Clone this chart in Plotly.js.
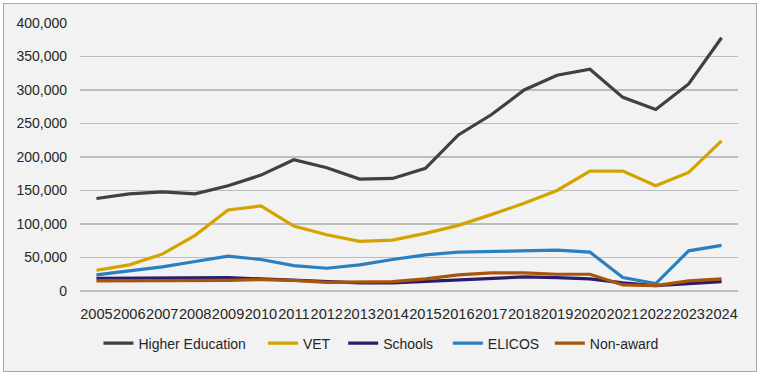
<!DOCTYPE html>
<html>
<head>
<meta charset="utf-8">
<script src="https://cdn.plot.ly/plotly-3.0.1.min.js"></script>
<style>
  html, body { margin: 0; padding: 0; background: #ffffff; }
  #chart { position: absolute; left: 3px; top: 3px; width: 752px; height: 367px; border: 1px solid #a6a6a6; }
</style>
</head>
<body>
<div id="chart"></div>
<script>
const years = ["2005","2006","2007","2008","2009","2010","2011","2012","2013","2014","2015","2016","2017","2018","2019","2020","2021","2022","2023","2024"];
const higherEducation = [138000,145000,148000,145000,157000,173000,196000,184000,167000,168000,183000,233000,263000,300000,322000,331000,289000,271000,309000,378000];
const vet = [31000,39000,55000,83000,121000,127000,97000,84000,74000,76000,86000,98000,114000,131000,150000,179000,179000,157000,177000,224000];
const schools = [19000,19000,19000,20000,20000,18000,16000,13000,12000,12000,14000,17000,18000,21000,20000,18000,12000,8000,11000,14000];
const elicos = [24000,30000,36000,44000,52000,47000,38000,34000,39000,47000,54000,58000,59000,60000,61000,58000,20000,11000,60000,68000];
const nonAward = [15000,15000,15000,15000,16000,17000,16000,13000,13000,14000,18000,24000,27000,27000,25000,25000,9000,8000,15000,18000];
const seriesNames = ["Higher Education","VET","Schools","ELICOS","Non-award"];
const seriesColors = ["#3f3f44","#d4a300","#2b1d6b","#2a7fc1","#a9540a"];
const seriesValues = [higherEducation, vet, schools, elicos, nonAward];
const yTickVals = [0,50000,100000,150000,200000,250000,300000,350000,400000];
const yTickText = ["0","50,000","100,000","150,000","200,000","250,000","300,000","350,000","400,000"];

const legendIds = ["legend","legend2","legend3","legend4","legend5"];
const legendX = [0.028, 0.278, 0.400, 0.559, 0.714];

const data = seriesNames.map((n, i) => ({
  type: 'scatter', mode: 'lines', name: n, x: years, y: seriesValues[i],
  legend: legendIds[i],
  line: { color: seriesColors[i], width: 3.2 }
}));

const layout = {
  width: 752, height: 367,
  margin: { l: 76, r: 18, t: 19, b: 78 },
  paper_bgcolor: '#f2f2f2', plot_bgcolor: '#f2f2f2',
  font: { family: 'Liberation Sans, Arial, sans-serif', size: 14, color: '#262626' },
  showlegend: true,
  xaxis: { type: 'category', tickvals: years, ticktext: years, showgrid: false, zeroline: false,
           showline: false, ticks: '', ticklabelstandoff: 12, tickangle: 0, tickfont: { size: 14.6 },
           range: [-0.5, 19.5], automargin: false },
  yaxis: { range: [0, 400000], tickvals: yTickVals, ticktext: yTickText, showgrid: true,
           gridcolor: '#bdbdbd', gridwidth: 1.2, zeroline: true, zerolinecolor: '#bdbdbd', zerolinewidth: 1.2,
           showline: false, ticks: '', ticklabelstandoff: 12, tickfont: { size: 14 }, automargin: false }
};
legendIds.forEach((id, i) => {
  layout[id] = { orientation: 'h', x: legendX[i], xanchor: 'left', y: -0.196, yanchor: 'middle',
                 font: { size: 14, color: '#262626' }, bgcolor: 'rgba(0,0,0,0)', itemwidth: 30 };
});
Plotly.newPlot('chart', data, layout, { displayModeBar: false, staticPlot: true });
</script>
</body>
</html>
